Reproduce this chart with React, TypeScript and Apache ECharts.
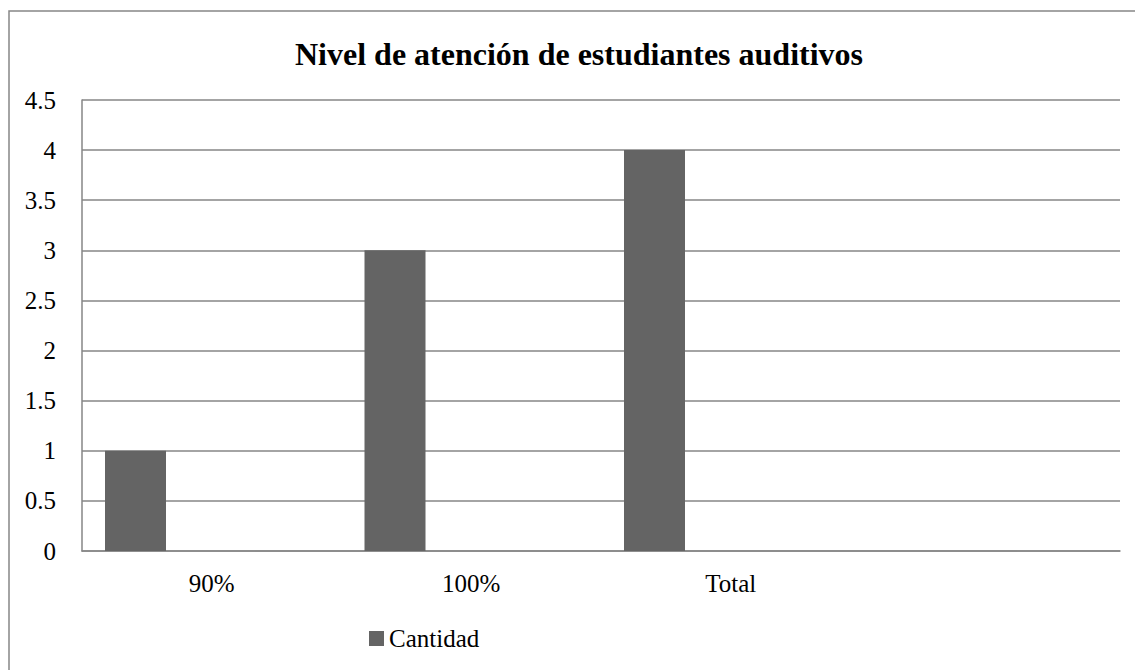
import React, { useEffect, useRef } from "react";
import * as echarts from "echarts";

const titleText = "Nivel de atención de estudiantes auditivos";
const categories = ["90%", "100%", "Total", ""];
const cantidad = [1, 3, 4, null];
const emptySeries = [null, null, null, null];
const seriesName = "Cantidad";

const FONT = "Times New Roman, Liberation Serif, DejaVu Serif, serif";

export default function App() {
  const ref = useRef<HTMLDivElement>(null);
  useEffect(() => {
    if (!ref.current) return;
    const chart = echarts.init(ref.current, undefined, { renderer: "svg" });
    chart.setOption({
      animation: false,
      backgroundColor: "#ffffff",
      textStyle: { fontFamily: FONT },
      title: {
        text: titleText,
        left: 574,
        top: 33,
        textAlign: "center",
        textStyle: { fontFamily: FONT, fontSize: 32, fontWeight: "bold", color: "#000" },
      },
      legend: {
        data: [seriesName],
        left: 364,
        top: 621,
        icon: "rect",
        itemWidth: 15,
        itemHeight: 15,
        itemGap: 4,
        textStyle: { fontFamily: FONT, fontSize: 25, color: "#000" },
      },
      graphic: [
        {
          type: "rect",
          shape: { x: 9, y: 11, width: 1140, height: 680 },
          style: { fill: "none", stroke: "#868686", lineWidth: 1.5 },
          silent: true,
        },
      ],
      grid: { left: 82, top: 100, right: 15, bottom: 119, containLabel: false },
      xAxis: {
        type: "category",
        data: categories,
        axisLine: { show: true, lineStyle: { color: "#868686", width: 1.5 } },
        axisTick: { show: false },
        axisLabel: { fontFamily: FONT, fontSize: 25, color: "#000", margin: 20, interval: 0 },
        splitLine: { show: false },
      },
      yAxis: {
        type: "value",
        min: 0,
        max: 4.5,
        interval: 0.5,
        axisLine: { show: true, lineStyle: { color: "#868686", width: 1.5 } },
        axisTick: { show: false },
        axisLabel: { fontFamily: FONT, fontSize: 25, color: "#000", margin: 26 },
        splitLine: { show: true, lineStyle: { color: "#868686", width: 1.5 } },
      },
      series: [
        {
          name: seriesName,
          type: "bar",
          data: cantidad,
          barWidth: 61,
          barGap: "150%",
          itemStyle: { color: "#646464" },
        },
        {
          name: "",
          type: "bar",
          data: emptySeries,
          barWidth: 61,
          barGap: "150%",
          itemStyle: { color: "#a0a0a0" },
        },
      ],
    });
    return () => chart.dispose();
  }, []);
  return (
    <div
      ref={ref}
      style={{ position: "absolute", left: 0, top: 0, width: 1135, height: 670 }}
    />
  );
}
